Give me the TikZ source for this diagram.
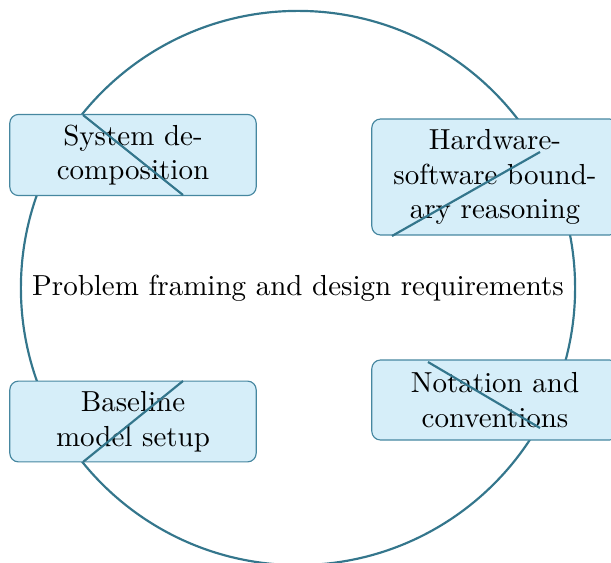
\documentclass[tikz,border=0pt]{standalone}
\begin{document}
\begin{tikzpicture}[x=0.345pt,y=-0.345pt,
  ring/.style={draw=ringc,line width=0.75pt},
  topic/.style={draw=boxc,fill=boxfill,rounded corners=3pt,line width=0.4pt,
    text width=71pt,align=center,inner xsep=7pt,inner ysep=3.5pt,minimum height=27.6pt},
  chord/.style={draw=ringc,line width=0.75pt}]
\definecolor{ringc}{RGB}{52,118,140}
\definecolor{boxc}{RGB}{70,135,160}
\definecolor{boxfill}{RGB}{214,238,249}
\useasboundingbox (0,0) rectangle (611,563);
\node (c) at (298,288) {Problem framing and design requirements};
\draw[ring] (c.center) circle[radius=95.6pt];
\node[topic] (s1) at (133,155) {System de-\\composition};
\node[topic] (s2) at (495,177) {Hardware-\\software bound-\\ary reasoning};
\node[topic] (s3) at (133,421.5) {Baseline\\model setup};
\node[topic] (s4) at (495,400) {Notation and\\conventions};
\coordinate (p1) at (83,115);
\coordinate (q1) at (183,195);
\coordinate (p2) at (540,152);
\coordinate (q2) at (392,236);
\coordinate (p3) at (183,381);
\coordinate (q3) at (83,462);
\coordinate (p4) at (428,362);
\coordinate (q4) at (540,428);
\draw[chord] (p1) -- (q1);
\draw[chord] (p2) -- (q2);
\draw[chord] (p3) -- (q3);
\draw[chord] (p4) -- (q4);
\end{tikzpicture}
\end{document}
